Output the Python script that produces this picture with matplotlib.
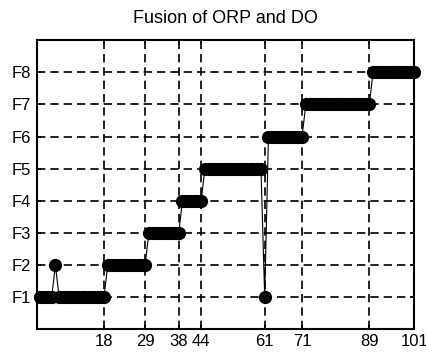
import numpy as np
import matplotlib
matplotlib.use("Agg")
import matplotlib.pyplot as plt

# sample index and fused level (1=F1 ... 8=F8)
sample = list(range(1, 102))
level = ([1, 1, 1, 1, 2] + [1] * 13 + [2] * 11 + [3] * 9 + [4] * 6 +
         [5] * 16 + [1] + [6] * 10 + [7] * 18 + [8] * 12)
xtick_vals = [18, 29, 38, 44, 61, 71, 89, 101]
ytick_vals = [1, 2, 3, 4, 5, 6, 7, 8]
ytick_labels = ["F1", "F2", "F3", "F4", "F5", "F6", "F7", "F8"]
title = "Fusion of ORP and DO"

plt.rcParams['font.family'] = ['Liberation Sans', 'DejaVu Sans']

fig = plt.figure(figsize=(4.27, 3.58), dpi=100)
ax = fig.add_axes([0.086, 0.080, 0.884, 0.808])

ax.plot(sample, level, color='black', linewidth=0.8, marker='o',
        markersize=8.5, markerfacecolor='black', markeredgecolor='black',
        clip_on=False, zorder=3)

ax.set_xlim(0, 101)
ax.set_ylim(0, 9)
ax.set_xticks(xtick_vals)
ax.set_xticklabels([str(v) for v in xtick_vals])
ax.set_yticks(ytick_vals)
ax.set_yticklabels(ytick_labels)
ax.tick_params(axis='both', direction='in', length=3, width=1.2,
               top=True, right=True, labelsize=12, colors='black', pad=4)
ax.tick_params(axis='x', pad=3)

ax.grid(True, color='black', linestyle=(0, (5, 3)), linewidth=1.2)
for s in ax.spines.values():
    s.set_linewidth(1.5)
    s.set_color('black')

ax.set_title(title, fontsize=13, pad=12)

fig.savefig("out.png", dpi=100)
